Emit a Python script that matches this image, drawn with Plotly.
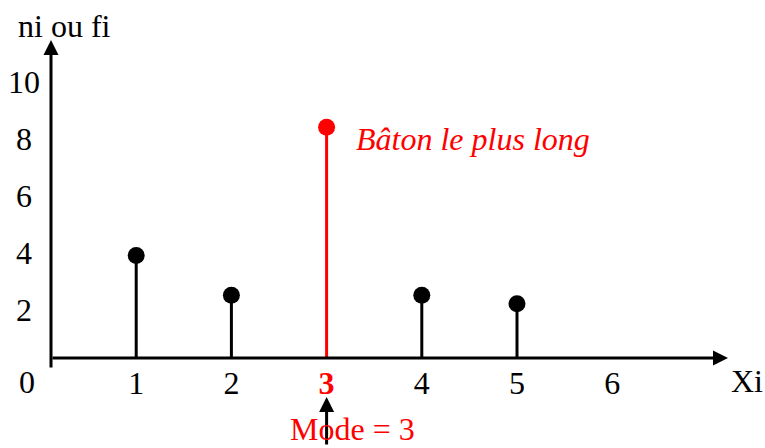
import plotly.graph_objects as go

# Frequency distribution (stem / "bâton" diagram)
xi = [1, 2, 3, 4, 5]
ni = [3.6, 2.2, 8.1, 2.2, 1.9]
mode_x = 3
x_ticks = [1, 2, 3, 4, 5, 6]
y_ticks = [2, 4, 6, 8, 10]

RED = "#ff0000"
BLACK = "#000000"
FONT = "Liberation Serif"
FS = 32

W, H = 765, 448
# data <-> pixel mapping: x=0 at px 41, 95.2 px per unit; y=0 at px 358, 28.5 px per unit
X0_PX, X_UNIT = 41.0, 95.2
Y0_PX, Y_UNIT = 358.0, 28.5
X_RANGE = [-X0_PX / X_UNIT, (W - X0_PX) / X_UNIT]
Y_RANGE = [(Y0_PX - H) / Y_UNIT, Y0_PX / Y_UNIT]


def dx(px):
    return (px - X0_PX) / X_UNIT


def dy(py):
    return (Y0_PX - py) / Y_UNIT


fig = go.Figure()

# stems
for color, keep in ((BLACK, lambda v: v != mode_x), (RED, lambda v: v == mode_x)):
    sx, sy = [], []
    for x, n in zip(xi, ni):
        if keep(x):
            sx += [x, x, None]
            sy += [0, n, None]
    fig.add_trace(go.Scatter(x=sx, y=sy, mode="lines",
                             line=dict(color=color, width=3),
                             hoverinfo="skip", showlegend=False))

# stem heads
fig.add_trace(go.Scatter(
    x=xi, y=ni, mode="markers",
    marker=dict(size=17, color=[RED if x == mode_x else BLACK for x in xi]),
    showlegend=False))

x_tick_text = []
for t in x_ticks:
    if t == mode_x:
        x_tick_text.append(f"<b><span style='color:{RED}'>{t}</span></b>")
    else:
        x_tick_text.append(str(t))

# single digits padded so that labels sit roughly centred in the left column
y_tick_text = [str(t) if t >= 10 else f"{t}&nbsp;" for t in y_ticks]

arrow = dict(showarrow=True, arrowhead=2, arrowsize=1, arrowwidth=3,
             arrowcolor=BLACK, axref="x", ayref="y", text="", standoff=0)

annotations = [
    # y axis
    dict(x=dx(51), y=dy(40), ax=dx(51), ay=dy(369), **arrow),
    # x axis
    dict(x=dx(728), y=0, ax=dx(51), ay=0, **arrow),
    # mode pointer
    dict(x=mode_x, y=dy(397), ax=mode_x, ay=dy(446), **arrow),
    dict(x=dx(27), y=dy(382), text="0", showarrow=False,
         xanchor="center", yanchor="middle", font=dict(size=FS, color=BLACK, family=FONT)),
    dict(x=dx(747), y=dy(381), text="Xi", showarrow=False,
         xanchor="center", yanchor="middle", font=dict(size=FS, color=BLACK, family=FONT)),
    dict(x=dx(64), y=dy(26), text="ni ou fi", showarrow=False,
         xanchor="center", yanchor="middle", font=dict(size=FS, color=BLACK, family=FONT)),
    dict(x=dx(354), y=dy(139), text="<i>Bâton le plus long</i>", showarrow=False,
         xanchor="left", yanchor="middle", font=dict(size=FS, color=RED, family=FONT)),
    dict(x=dx(352), y=0, yref="paper", text=f"Mode = {mode_x}", showarrow=False,
         xanchor="center", yanchor="bottom", borderpad=0,
         font=dict(size=FS, color=RED, family=FONT)),
]

fig.update_layout(
    width=W, height=H,
    margin=dict(l=0, r=0, t=0, b=0),
    paper_bgcolor="white", plot_bgcolor="white",
    font=dict(family=FONT, size=FS, color=BLACK),
    xaxis=dict(range=X_RANGE, showgrid=False, zeroline=False, showline=False,
               tickvals=x_ticks, ticktext=x_tick_text, ticks="",
               anchor="free", position=(H - Y0_PX) / H, automargin=False,
               ticklabelstandoff=3),
    yaxis=dict(range=Y_RANGE, showgrid=False, zeroline=False, showline=False,
               tickvals=y_ticks, ticktext=y_tick_text, ticks="",
               anchor="free", position=51 / W, automargin=False,
               ticklabelstandoff=11, ticklabelshift=9),
    annotations=annotations,
)

fig.write_html("out.html")
